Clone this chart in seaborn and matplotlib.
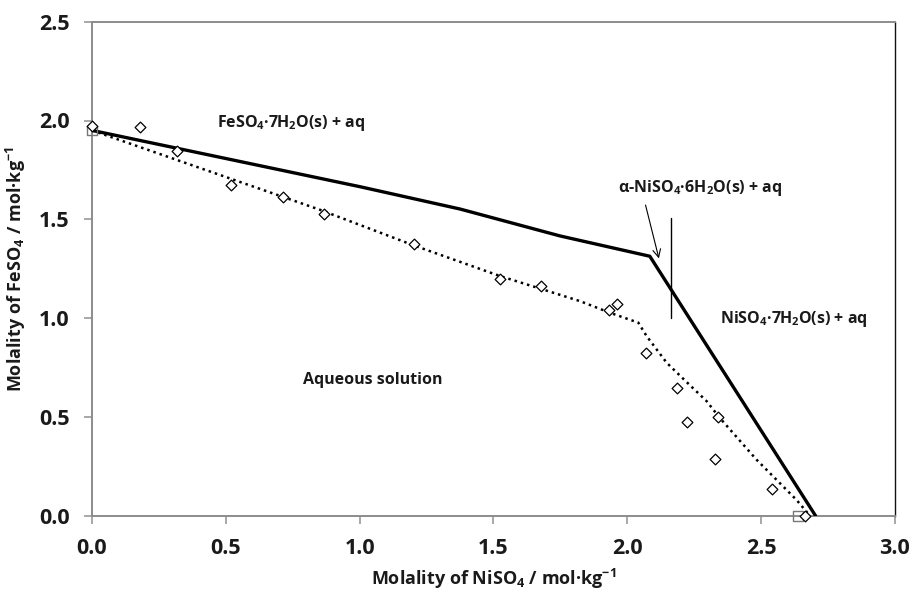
import numpy as np
import pandas as pd
import matplotlib
matplotlib.use("Agg")
import matplotlib.pyplot as plt
import seaborn as sns

# Experimental solubility points (open diamonds)
exp_x = [0.0, 0.179, 0.316, 0.518, 0.712, 0.868, 1.204, 1.524, 1.676, 1.930, 1.961,
         2.068, 2.184, 2.224, 2.337, 2.326, 2.539, 2.665]
exp_y = [1.970, 1.968, 1.848, 1.675, 1.614, 1.526, 1.374, 1.196, 1.162, 1.040, 1.070,
         0.821, 0.645, 0.474, 0.500, 0.288, 0.136, 0.0]

# Binary end points (open squares)
bin_x = [0.0, 2.638]
bin_y = [1.949, 0.0]

# Model curve (solid)
model_x = [0.0, 1.001, 1.375, 1.748, 2.084, 2.703]
model_y = [1.950, 1.665, 1.552, 1.416, 1.313, 0.0]

# Dotted curve (guide to experimental data)
dot_x = [0.0, 0.852, 1.200, 1.524, 1.823, 1.935, 2.041, 2.072, 2.147, 2.234,
         2.296, 2.346, 2.483, 2.632, 2.682]
dot_y = [1.950, 1.548, 1.369, 1.213, 1.086, 1.027, 0.977, 0.909, 0.774, 0.660,
         0.580, 0.494, 0.283, 0.080, 0.0]

# Phase boundary marker
vline_x = [2.162, 2.162]
vline_y = [1.002, 1.506]

x_ticks = [0.0, 0.5, 1.0, 1.5, 2.0, 2.5, 3.0]
y_ticks = [0.0, 0.5, 1.0, 1.5, 2.0, 2.5]

sns.set_theme(style="white")
FONT = 'Open Sans'
plt.rcParams['font.family'] = [FONT, 'DejaVu Sans']
plt.rcParams['mathtext.fontset'] = 'custom'
plt.rcParams['mathtext.rm'] = FONT + ':bold'
plt.rcParams['mathtext.bf'] = FONT + ':bold'
plt.rcParams['mathtext.it'] = FONT + ':bold'

fig = plt.figure(figsize=(9.16, 5.93), dpi=100)
ax = fig.add_axes([92/916, 1-515.7/593, (895-92)/916, (515.7-21.7)/593])

df_model = pd.DataFrame({"x": model_x, "y": model_y})
df_dot = pd.DataFrame({"x": dot_x, "y": dot_y})
df_exp = pd.DataFrame({"x": exp_x, "y": exp_y})
df_bin = pd.DataFrame({"x": bin_x, "y": bin_y})

sns.lineplot(data=df_model, x="x", y="y", sort=False, color="black", linewidth=2.4, ax=ax, zorder=3)
sns.lineplot(data=df_dot, x="x", y="y", sort=False, color="black", linewidth=1.8,
             linestyle=(0, (1, 1.6)), ax=ax, zorder=3)
sns.scatterplot(data=df_bin, x="x", y="y", marker="s", s=50, facecolor="none",
                edgecolor="#777777", linewidth=1.0, ax=ax, zorder=4, clip_on=False)
sns.scatterplot(data=df_exp, x="x", y="y", marker="D", s=30, facecolor="white",
                edgecolor="black", linewidth=0.9, ax=ax, zorder=5, clip_on=False)
ax.plot(vline_x, vline_y, color="black", linewidth=1.0, zorder=3)

ax.annotate("", xy=(2.118, 1.302), xytext=(2.068, 1.572),
            arrowprops=dict(arrowstyle="->", color="black", lw=0.8,
                            mutation_scale=14, shrinkA=0, shrinkB=0))

tfs = 11.5
ax.text(0.467, 1.988, r"FeSO$_4$·7H$_2$O(s) + aq", fontsize=tfs,
        fontweight="bold", va="center", ha="left", color="#1a1a1a")
ax.text(1.966, 1.657, r"α-NiSO$_4$·6H$_2$O(s) + aq", fontsize=tfs,
        fontweight="bold", va="center", ha="left", color="#1a1a1a")
ax.text(2.346, 0.993, r"NiSO$_4$·7H$_2$O(s) + aq", fontsize=tfs,
        fontweight="bold", va="center", ha="left", color="#1a1a1a")
ax.text(0.789, 0.689, "Aqueous solution", fontsize=tfs, fontweight="bold",
        va="center", ha="left", color="#1a1a1a")

ax.set_xlim(0, 3.0)
ax.set_ylim(0, 2.5)
ax.set_xticks(x_ticks)
ax.set_yticks(y_ticks)
ax.set_xticklabels([f"{v:.1f}" for v in x_ticks], fontsize=15.5, fontweight="bold", color="#1a1a1a")
ax.set_yticklabels([f"{v:.1f}" for v in y_ticks], fontsize=15.5, fontweight="bold", color="#1a1a1a")
ax.tick_params(axis="both", direction="out", length=6, width=1.2, color="#999999", pad=10,
               bottom=True, left=True)

ax.set_xlabel(r"Molality of NiSO$_4$ / mol·kg$^{-1}$", fontsize=13,
              fontweight="bold", color="#1a1a1a", labelpad=6)
ax.set_ylabel(r"Molality of FeSO$_4$ / mol·kg$^{-1}$", fontsize=13,
              fontweight="bold", color="#1a1a1a", labelpad=8)

for side in ["left", "bottom", "top"]:
    ax.spines[side].set_color("#8c8c8c")
    ax.spines[side].set_linewidth(1.4)
    ax.spines[side].set_visible(True)
ax.spines["right"].set_color("#111111")
ax.spines["right"].set_linewidth(1.0)
ax.spines["right"].set_visible(True)

fig.savefig("out.png", dpi=100)
